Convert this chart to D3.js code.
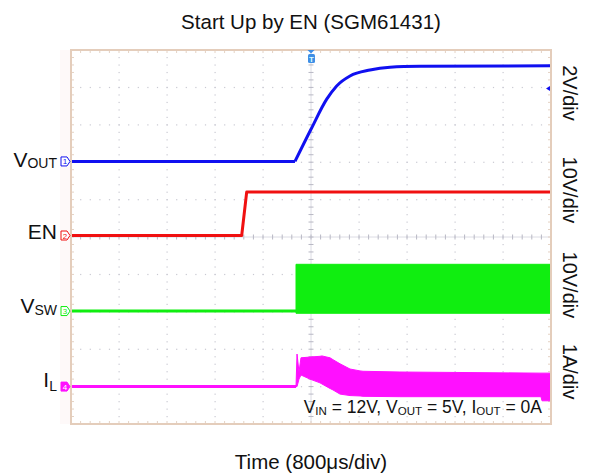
<!DOCTYPE html>
<html><head><meta charset="utf-8">
<script src="https://cdn.jsdelivr.net/npm/d3@7"></script>
<style>body{margin:0;background:#fff}svg{display:block;font-family:"Liberation Sans",Arial,sans-serif}</style>
</head><body><svg id="c" width="597" height="476"></svg>
<script>
// ---------------- data ----------------
const timeRangeUs = [-4000, 4000];
const usPerDiv = 800;
const divRange = [0, 10];

const voutTimeUs = [-4000, -267, 0, 262, 428, 650, 983, 1317, 1817, 4000];
const voutVolts  = [0, 0, 1.72, 3.33, 4.04, 4.57, 4.89, 5.04, 5.09, 5.12];

const enTimeUs = [-4000, -1155, -1072, 4000];
const enVolts  = [0, 0, 11.6, 11.6];

const swIdleTimeUs = [-4000, -250];
const swIdleVolts  = [0, 0];
const swBandTimeUs = [-250, 4000];
const swBandHigh   = [12.5, 12.5];
const swBandLow    = [-0.6, -0.6];

const ilIdleTimeUs = [-4000, -250];
const ilIdleAmps   = [0, 0];
const ilBandTimeUs = [-250, -233, -200, -167, -17, 150, 183, 317, 367, 483, 650, 817, 867, 1483, 3833, 3850, 4000];
const ilBandHigh   = [0, 0.87, 0.39, 0.77, 0.79, 0.81, 0.82, 0.77, 0.72, 0.61, 0.47, 0.42, 0.41, 0.39, 0.36, 0.36, 0.36];
const ilBandLow    = [0, 0, 0.2, 0.31, 0.2, 0.10, 0.07, -0.05, -0.09, -0.2, -0.24, -0.25, -0.26, -0.27, -0.27, -0.38, -0.38];

const channelUnitsPerDiv = [2, 10, 10, 1];
const channelNumbers = ["1", "2", "3", "4"];
const channelLabelMain = ["V", "EN", "V", "I"];
const channelLabelSub  = ["OUT", "", "SW", "L"];
const channelScaleLabels = ["2V/div", "10V/div", "10V/div", "1A/div"];
const titleText = "Start Up by EN (SGM61431)";
const xAxisText = "Time (800\u03bcs/div)";
const noteParts = [["V",""],["IN","sub"],[" = 12V, V",""],["OUT","sub"],[" = 5V, I",""],["OUT","sub"],[" = 0A",""]];

// ---------------- layout / style ----------------
const plot = {left: 71, right: 551, top: 50, bottom: 424};
const channelZeroDiv = [2.98, 4.96, 6.98, 9.0];
const scaleLabelDiv = [1.15, 3.74, 6.28, 8.6];
const colors = ["#1010f0", "#f01010", "#10ee10", "#ff10ff"];
const labelY = [166.7, 239.3, 313.3, 387];
const subDy = [1, 0, 2, 4];

const svg = d3.select("#c");
const x = d3.scaleLinear().domain(timeRangeUs).range([plot.left, plot.right]);
const xd = d3.scaleLinear().domain(divRange).range([plot.left, plot.right]);
const yd = d3.scaleLinear().domain(divRange).range([plot.top, plot.bottom]);
function ych(ch) {
  return v => yd(channelZeroDiv[ch] - v / channelUnitsPerDiv[ch]);
}

// faint strip left of the border
svg.append("rect").attr("x", plot.left - 11).attr("y", plot.top).attr("width", 10).attr("height", plot.bottom - plot.top).attr("fill", "#fef9f9");

// grid
const g = svg.append("g");
const minor = d3.range(1, 50).map(i => i * 0.2);
const majors = d3.range(1, 10);
majors.filter(m => m !== 5).forEach(m => {
  minor.forEach(t => {
    g.append("rect").attr("x", xd(m) - 0.5).attr("y", yd(t) - 0.5).attr("width", 1.2).attr("height", 1.2).attr("fill", "#c9c9d2");
    g.append("rect").attr("x", xd(t) - 0.5).attr("y", yd(m) - 0.5).attr("width", 1.2).attr("height", 1.2).attr("fill", "#c9c9d2");
  });
});
// center axes
g.append("line").attr("x1", xd(5)).attr("x2", xd(5)).attr("y1", plot.top).attr("y2", plot.bottom).attr("stroke", "#dcdce4").attr("stroke-width", 1);
g.append("line").attr("y1", yd(5)).attr("y2", yd(5)).attr("x1", plot.left).attr("x2", plot.right).attr("stroke", "#dcdce4").attr("stroke-width", 1);
minor.forEach(t => {
  g.append("line").attr("x1", xd(5) - 2.5).attr("x2", xd(5) + 2.5).attr("y1", yd(t)).attr("y2", yd(t)).attr("stroke", "#b8b8c4");
  g.append("line").attr("y1", yd(5) - 2.5).attr("y2", yd(5) + 2.5).attr("x1", xd(t)).attr("x2", xd(t)).attr("stroke", "#b8b8c4");
});
// border ticks
minor.forEach(t => {
  g.append("line").attr("x1", xd(t)).attr("x2", xd(t)).attr("y1", plot.top).attr("y2", plot.top + 3).attr("stroke", "#e4d2c4");
  g.append("line").attr("x1", xd(t)).attr("x2", xd(t)).attr("y1", plot.bottom).attr("y2", plot.bottom - 3).attr("stroke", "#e4d2c4");
  g.append("line").attr("y1", yd(t)).attr("y2", yd(t)).attr("x1", plot.left).attr("x2", plot.left + 3).attr("stroke", "#e4d2c4");
  g.append("line").attr("y1", yd(t)).attr("y2", yd(t)).attr("x1", plot.right).attr("x2", plot.right - 3).attr("stroke", "#e4d2c4");
});

// traces
function drawLine(ch, ts, vs, curve, w) {
  const yy = ych(ch);
  svg.append("path").datum(ts.map((t, i) => [t, vs[i]]))
    .attr("d", d3.line().x(d => x(d[0])).y(d => yy(d[1])).curve(curve || d3.curveLinear))
    .attr("fill", "none").attr("stroke", colors[ch]).attr("stroke-width", w || 3).attr("stroke-linejoin", "round");
}
function drawBand(ch, ts, hi, lo) {
  const yy = ych(ch);
  svg.append("path").datum(ts.map((t, i) => [t, hi[i], lo[i]]))
    .attr("d", d3.area().x(d => x(d[0])).y0(d => yy(d[2])).y1(d => yy(d[1])))
    .attr("fill", colors[ch]).attr("stroke", colors[ch]).attr("stroke-width", 1);
}
drawLine(3, ilIdleTimeUs, ilIdleAmps);
drawBand(3, ilBandTimeUs, ilBandHigh, ilBandLow);
drawLine(2, swIdleTimeUs, swIdleVolts);
drawBand(2, swBandTimeUs, swBandHigh, swBandLow);
drawLine(1, enTimeUs, enVolts);
// VOUT: flat idle part, then a smooth soft-start ramp that begins with a sharp corner
drawLine(0, voutTimeUs.slice(0, 2), voutVolts.slice(0, 2));
drawLine(0, voutTimeUs.slice(1), voutVolts.slice(1), d3.curveMonotoneX);

// border
svg.append("rect").attr("x", plot.left).attr("y", plot.top).attr("width", plot.right - plot.left).attr("height", plot.bottom - plot.top)
  .attr("fill", "none").attr("stroke", "#e4cdbb").attr("stroke-width", 2);

// channel markers
channelNumbers.forEach((n, ch) => {
  const yy = ych(ch)(0), x0 = 61;
  svg.append("path").attr("d", `M${x0},${yy - 4.5}L${x0 + 6},${yy - 4.5}L${x0 + 9},${yy}L${x0 + 6},${yy + 4.5}L${x0},${yy + 4.5}Z`)
    .attr("fill", ch === 3 ? colors[ch] : "#fff").attr("stroke", colors[ch]).attr("stroke-width", 1);
  svg.append("text").attr("x", x0 + 4).attr("y", yy + 3).attr("text-anchor", "middle").attr("font-size", 8)
    .attr("fill", ch === 3 ? "#fff" : colors[ch]).text(n);
});

// trigger marker
const tx = x(0);
svg.append("path").attr("d", `M${tx - 3.5},${plot.top}L${tx + 3.5},${plot.top}L${tx},${plot.top + 3.5}Z`).attr("fill", "#3f8fe6");
svg.append("rect").attr("x", tx - 3).attr("y", plot.top + 4).attr("width", 7).attr("height", 9).attr("rx", 1.5).attr("fill", "#3f8fe6");
svg.append("text").attr("x", tx + 0.5).attr("y", plot.top + 11.5).attr("text-anchor", "middle").attr("font-size", 8).attr("font-weight", "bold").attr("fill", "#dff").text("T");
// ch1 level marker on right edge
const ly = ych(0)(3.9);
svg.append("path").attr("d", `M${plot.right - 5},${ly}L${plot.right - 1},${ly - 2.5}L${plot.right - 1},${ly + 2.5}Z`).attr("fill", colors[0]);

// left channel labels
channelLabelMain.forEach((m, ch) => {
  const t = svg.append("text").attr("x", 57).attr("y", labelY[ch]).attr("text-anchor", "end").attr("font-size", 21).attr("fill", "#111");
  t.append("tspan").text(m);
  if (channelLabelSub[ch]) t.append("tspan").attr("font-size", 14).attr("dy", subDy[ch]).text(channelLabelSub[ch]);
});

// right scale labels
channelScaleLabels.forEach((s, ch) => {
  svg.append("text").attr("transform", `translate(563,${yd(scaleLabelDiv[ch])}) rotate(90)`)
    .attr("text-anchor", "middle").attr("font-size", 20).attr("fill", "#111").text(s);
});

// note
const note = svg.append("text").attr("x", 542).attr("y", 415).attr("text-anchor", "end").attr("font-size", 17.5).attr("fill", "#111");
noteParts.forEach(([s, k]) => {
  if (k === "sub") note.append("tspan").attr("font-size", 11.5).attr("dy", 2).text(s);
  else note.append("tspan").attr("dy", note.selectAll("tspan").size() ? -2 : 0).text(s);
});

// title & axis label
svg.append("text").attr("x", 311).attr("y", 29).attr("text-anchor", "middle").attr("font-size", 20.5).attr("fill", "#111").text(titleText);
svg.append("text").attr("x", 311).attr("y", 469).attr("text-anchor", "middle").attr("font-size", 20.5).attr("fill", "#111").text(xAxisText);
</script></body></html>
